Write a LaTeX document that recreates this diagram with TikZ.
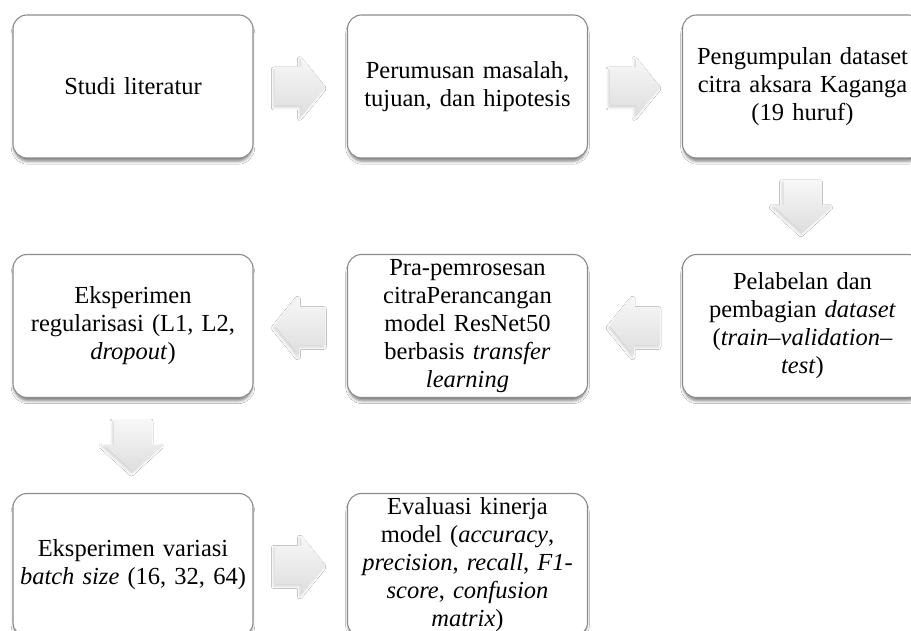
\documentclass[tikz,border=0pt]{standalone}
\usepackage{fontspec}
\setmainfont{Liberation Serif}
\usetikzlibrary{calc,shadows.blur}
\begin{document}
\begin{tikzpicture}[x=1pt,y=-1pt,
  stepbox/.style={draw=black!45, line width=1.1pt, fill=white, rounded corners=14pt,
    minimum width=240pt, minimum height=143pt, inner sep=0pt,
    align=center, text width=232pt,
    font=\fontsize{24.5}{28}\selectfont,
    blur shadow={shadow xshift=0pt, shadow yshift=-4pt, shadow blur radius=3pt, shadow opacity=50, shadow scale=0.99}},
  blockarrow/.style={top color=black!3, bottom color=black!13, draw=none,
    blur shadow={shadow xshift=-1.5pt, shadow yshift=-2pt, shadow blur radius=2.5pt, shadow opacity=18}},
  rarrow/.pic={\path[blockarrow] (-25,-19) -- (1,-19) -- (1,-29.5) -- (25,0) -- (1,29.5) -- (1,19) -- (-25,19) -- cycle;},
  larrow/.pic={\path[blockarrow] (25,-19) -- (-1,-19) -- (-1,-29.5) -- (-25,0) -- (-1,29.5) -- (-1,19) -- (25,19) -- cycle;},
  darrow/.pic={\path[blockarrow] (-19,-26) -- (19,-26) -- (19,-1) -- (29.5,-1) -- (0,26) -- (-29.5,-1) -- (-19,-1) -- cycle;}
]
\useasboundingbox (0,0) rectangle (911,631);
\clip (0,0) rectangle (911,631);
\fill[white] (0,0) rectangle (911,631);

\node[stepbox] (b1) at (133,86.5) {Studi literatur};
\node[stepbox] (b2) at (467.5,86.5) {Perumusan masalah,\\tujuan, dan hipotesis};
\node[stepbox] (b3) at (802.5,86.5) {Pengumpulan dataset\\citra aksara Kaganga\\(19 huruf)};

\node[stepbox] (b6) at (802.5,326) {Pelabelan dan\\pembagian \textit{dataset}\\(\textit{train–validation–}\\\textit{test})};
\node[stepbox] (b5) at (467.5,326) {Pra-pemrosesan\\citraPerancangan\\model ResNet50\\berbasis \textit{transfer}\\\textit{learning}};
\node[stepbox] (b4) at (133,326) {Eksperimen\\regularisasi (L1, L2,\\\textit{dropout})};

\node[stepbox] (b7) at (133,565) {Eksperimen variasi\\\textit{batch size} (16, 32, 64)};
\node[stepbox] (b8) at (467.5,565) {Evaluasi kinerja\\model (\textit{accuracy},\\\textit{precision}, \textit{recall}, \textit{F1-}\\\textit{score}, \textit{confusion}\\\textit{matrix})};

\pic at ($(b1.east)!0.5!(b2.west)$) {rarrow};
\pic at ($(b2.east)!0.5!(b3.west)$) {rarrow};
\pic at ($(b3.south)!0.5!(b6.north)$) {darrow};
\pic at ($(b6.west)!0.5!(b5.east)$) {larrow};
\pic at ($(b5.west)!0.5!(b4.east)$) {larrow};
\pic at ($(b4.south)!0.5!(b7.north)$) {darrow};
\pic at ($(b7.east)!0.5!(b8.west)$) {rarrow};
\end{tikzpicture}
\end{document}
